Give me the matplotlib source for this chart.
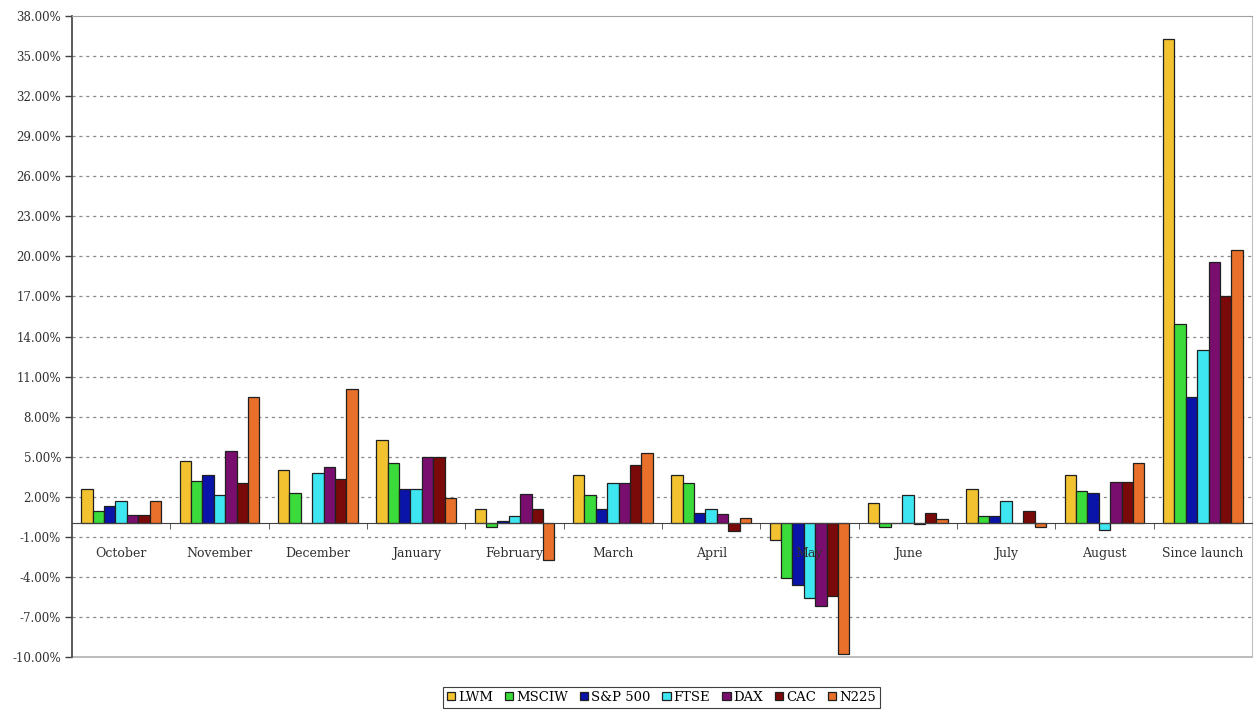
import numpy as np
import matplotlib
matplotlib.use('Agg')
import matplotlib.pyplot as plt
from matplotlib.ticker import FuncFormatter, FixedLocator

categories = ['October', 'November', 'December', 'January', 'February', 'March',
              'April', 'May', 'June', 'July', 'August', 'Since launch']
series = ['LWM', 'MSCIW', 'S&P 500', 'FTSE', 'DAX', 'CAC', 'N225']

lwm   = [2.6, 4.7, 4.0, 6.25, 1.1, 3.6, 3.6, -1.25, 1.5, 2.6, 3.6, 36.3]
msciw = [0.9, 3.2, 2.3, 4.5, -0.25, 2.1, 3.0, -4.1, -0.25, 0.55, 2.4, 14.9]
sp500 = [1.3, 3.6, 0.05, 2.6, 0.15, 1.1, 0.8, -4.6, 0.05, 0.55, 2.25, 9.5]
ftse  = [1.7, 2.1, 3.75, 2.6, 0.55, 3.0, 1.1, -5.6, 2.1, 1.7, -0.5, 13.0]
dax   = [0.6, 5.4, 4.2, 5.0, 2.2, 3.0, 0.7, -6.2, -0.05, 0.05, 3.1, 19.6]
cac   = [0.6, 3.0, 3.3, 5.0, 1.1, 4.4, -0.6, -5.4, 0.75, 0.9, 3.1, 17.0]
n225  = [1.7, 9.45, 10.05, 1.9, -2.75, 5.25, 0.4, -9.75, 0.35, -0.25, 4.5, 20.5]

colors = ['#F2C230', '#3ADB3A', '#0A14A8', '#3EE6F2', '#7A0E6E', '#7A0A0A', '#E8702A']

plt.rcParams['font.family'] = 'DejaVu Serif'

fig = plt.figure(figsize=(12.57, 7.15), dpi=100)
ax = fig.add_axes([0.0573, 0.0811, 0.9387, 0.8965])

values = [lwm, msciw, sp500, ftse, dax, cac, n225]
x = np.arange(len(categories))
w = 0.116
for k, (name, vals) in enumerate(zip(series, values)):
    ax.bar(x + (k - 3) * w, vals, width=w, color=colors[k], edgecolor='#202020',
           linewidth=0.9, label=name, zorder=3)

ax.set_xlim(-0.5, len(categories) - 0.5)
ax.set_ylim(-10, 38)
ax.set_yticks(np.arange(-10, 39, 3))
ax.yaxis.set_major_formatter(FuncFormatter(lambda v, p: '%.2f%%' % v))
ax.tick_params(axis='y', direction='out', length=5, width=1, color='#404040',
               labelsize=8.5, labelcolor='#303030', pad=3)
for yv in np.arange(-7, 38, 3):
    ax.axhline(yv, color='#8a8a8a', linestyle=(0, (2.5, 3)), linewidth=0.9, zorder=1)

# category axis runs along zero, labels sit just under it
ax.spines['bottom'].set_position(('data', 0))
ax.spines['bottom'].set_color('#404040')
ax.spines['bottom'].set_zorder(4)
ax.set_xticks(x)
ax.set_xticklabels(categories)
ax.xaxis.set_minor_locator(FixedLocator(np.arange(0.5, len(categories) - 0.5, 1)))
ax.tick_params(axis='x', which='major', length=0, pad=17, labelsize=9, labelcolor='#303030')
ax.tick_params(axis='x', which='minor', length=4, direction='out', color='#404040')
ax.xaxis.set_zorder(5)
ax.spines['left'].set_color('#404040')
ax.spines['left'].set_linewidth(1.2)
ax.spines['top'].set_color('#a0a0a0')
ax.spines['right'].set_color('#c0c0c0')
ax.axhline(-10, color='#b0b0b0', linewidth=1.2, clip_on=False, zorder=2)

leg = fig.legend(loc='center', bbox_to_anchor=(0.526, 0.025), ncol=7, fontsize=9.5,
                 handlelength=0.65, handleheight=0.65, handletextpad=0.2, columnspacing=0.9,
                 borderpad=0.3, fancybox=False, framealpha=1, edgecolor='#404040')
leg.get_frame().set_linewidth(0.8)

fig.savefig('out.png', dpi=100)
